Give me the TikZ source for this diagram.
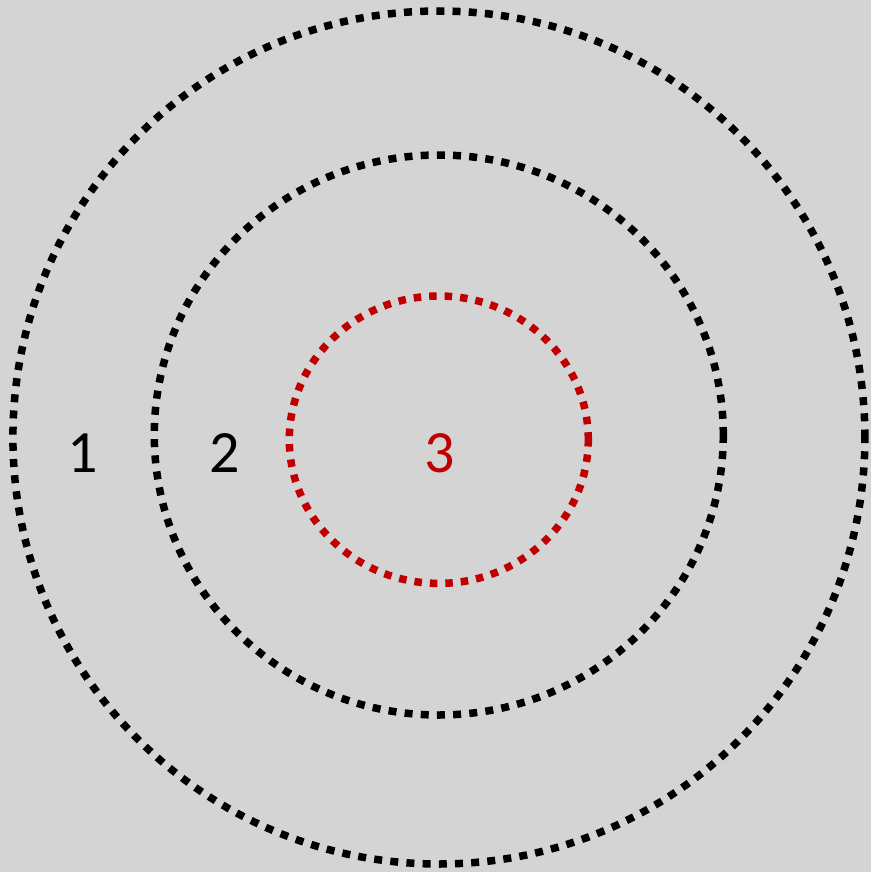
\documentclass[tikz,border=0pt]{standalone}
\usepackage{fontspec}
\setmainfont{Carlito}
\definecolor{bg}{HTML}{D4D4D4}
\definecolor{ringred}{HTML}{C00000}
\tikzset{
  ring/.style={line width=7.5pt, dash pattern=on 8pt off 8.2pt},
  redring/.style={line width=7.5pt, dash pattern=on 7.5pt off 8pt, draw=ringred},
  lbl/.style={anchor=base, inner sep=0pt, font=\fontsize{60}{72}\selectfont}
}
\begin{document}
\begin{tikzpicture}[x=1pt,y=-1pt]
\fill[bg] (0,0) rectangle (871,872);
\useasboundingbox (0,0) rectangle (871,872);
\draw[ring] (438.9,437.5) ellipse [x radius=426pt, y radius=426.5pt];
\draw[ring] (438.8,435) ellipse [x radius=284.5pt, y radius=280pt];
\draw[redring] (438.8,439.7) ellipse [x radius=149.5pt, y radius=143.7pt];
\node[lbl] (one) at (83,472) {1};
\node[lbl] (two) at (225,472) {2};
\node[lbl, text=ringred] (three) at (439.5,472) {3};
\end{tikzpicture}
\end{document}
